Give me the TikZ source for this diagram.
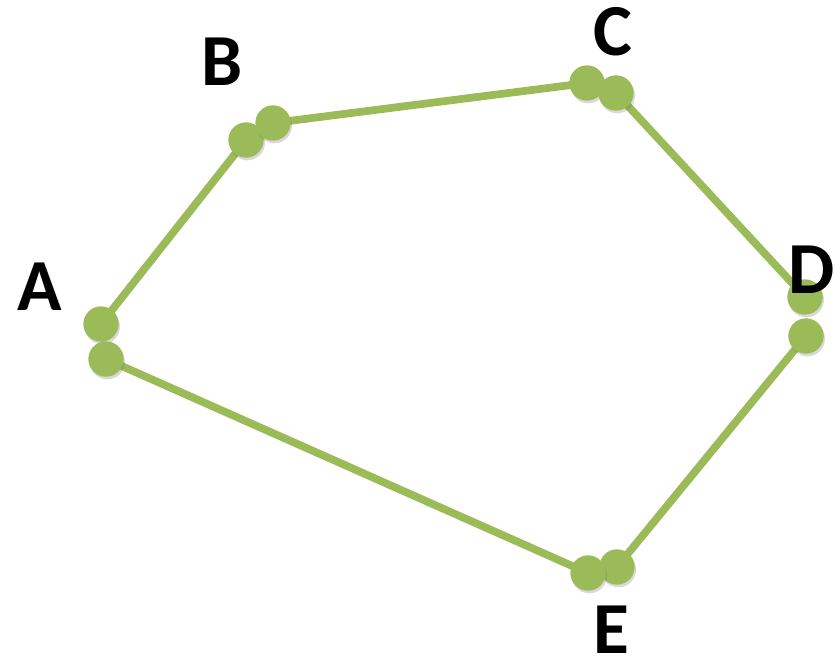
\documentclass[tikz,border=0pt]{standalone}
\usepackage{fontspec}
\setmainfont{Carlito}
\usetikzlibrary{shadows,backgrounds}
\definecolor{leafgreen}{RGB}{155,187,89}

\begin{document}
\begin{tikzpicture}[x=0.75pt,y=-0.75pt,
    dot/.style={circle, fill=leafgreen, minimum size=26.5pt, inner sep=0pt,
        drop shadow={shadow xshift=1pt, shadow yshift=-2pt, opacity=0.25, fill=black!60}},
    side/.style={draw=leafgreen, line width=5.8pt},
    letter/.style={font=\fontsize{55}{60}\selectfont\bfseries, inner sep=0pt}]
            \useasboundingbox(0,0)rectangle(835,661);
            % end points of each side
            \node[dot](a1)at(101,324){};
            \node[dot](b1)at(246,140){};
            \node[dot](b2)at(273,123){};
            \node[dot](c1)at(587,83){};
            \node[dot](c2)at(616,93){};
            \node[dot](d1)at(805,297){};
            \node[dot](d2)at(806,336){};
            \node[dot](e2)at(617,567){};
            \node[dot](e1)at(588,573){};
            \node[dot](a2)at(106,359){};
            % sides
            \begin{scope}[on background layer]
            \path[side](a1.center)to(b1.center);
            \path[side](b2.center)to(c1.center);
            \path[side](c2.center)to(d1.center);
            \path[side](d2.center)to(e2.center);
            \path[side](e1.center)to(a2.center);
            \end{scope}
            % labels
            \node[letter](labA)at(40,287){A};
            \node[letter](labB)at(222,62){B};
            \node[letter](labC)at(613,32){C};
            \node[letter](labD)at(812,270){D};
            \node[letter](labE)at(611,630){E};
        \end{tikzpicture}
\end{document}
